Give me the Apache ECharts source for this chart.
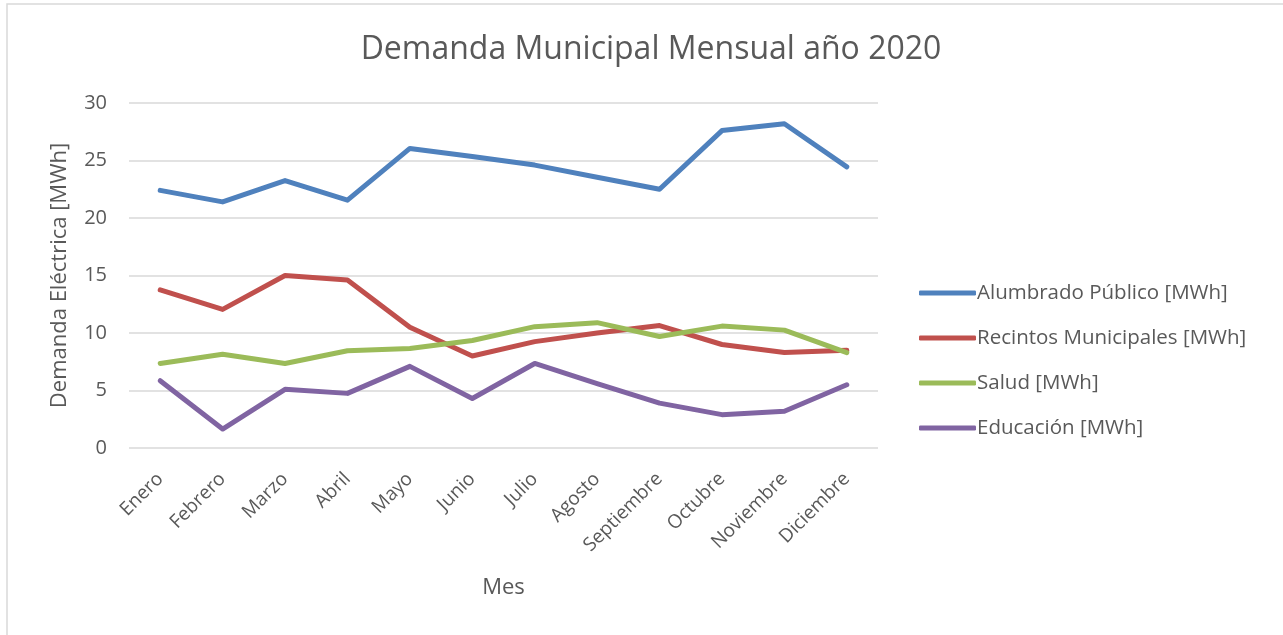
<!DOCTYPE html>
<html>
<head>
<meta charset="utf-8">
<script src="https://cdn.jsdelivr.net/npm/echarts@6/dist/echarts.min.js"></script>
<style>
  html, body { margin: 0; padding: 0; background: #fff; }
  #chart { width: 1283px; height: 635px; }
</style>
</head>
<body>
<div id="chart"></div>
<script>
// months on the x axis
const meses = ['Enero', 'Febrero', 'Marzo', 'Abril', 'Mayo', 'Junio', 'Julio',
  'Agosto', 'Septiembre', 'Octubre', 'Noviembre', 'Diciembre'];

// values, MWh
const alumbrado = [22.4, 21.4, 23.25, 21.55, 26.05, 25.35, 24.6, 23.55, 22.5, 27.6, 28.2, 24.45];
const recintos = [13.75, 12.05, 15.0, 14.6, 10.5, 8.0, 9.25, 10.0, 10.65, 9.0, 8.3, 8.5];
const salud = [7.35, 8.15, 7.35, 8.45, 8.65, 9.35, 10.55, 10.9, 9.7, 10.6, 10.25, 8.3];
const educacion = [5.85, 1.65, 5.1, 4.75, 7.1, 4.3, 7.35, 5.6, 3.9, 2.9, 3.2, 5.5];

const textGray = '#595959';
const font = 'Open Sans';

const chart = echarts.init(document.getElementById('chart'));

function lineSeries(name, data, color) {
  return {
    name: name,
    type: 'line',
    data: data,
    showSymbol: false,
    symbol: 'none',
    lineStyle: { width: 5, color: color, cap: 'round', join: 'round' },
    itemStyle: { color: color },
    animation: false
  };
}

chart.setOption({
  backgroundColor: '#fff',
  textStyle: { fontFamily: font },
  title: {
    text: 'Demanda Municipal Mensual año 2020',
    left: 646,
    textAlign: 'center',
    top: 29,
    textStyle: { fontFamily: font, fontSize: 32, fontWeight: 'normal', color: textGray }
  },
  graphic: [{
    type: 'rect',
    shape: { x: 7, y: 4, width: 1300, height: 660 },
    style: { fill: 'none', stroke: '#d9d9d9', lineWidth: 1.5 },
    silent: true
  }],
  legend: {
    orient: 'vertical',
    left: 914,
    top: 276,
    icon: 'roundRect',
    itemWidth: 57,
    itemHeight: 5,
    itemGap: 21,
    textStyle: { fontFamily: font, fontSize: 20.5, color: textGray, lineHeight: 24, padding: [0, 0, 0, -4] },
    data: ['Alumbrado Público [MWh]', 'Recintos Municipales [MWh]', 'Salud [MWh]', 'Educación [MWh]']
  },
  grid: { left: 129, right: 405, top: 103, bottom: 187, containLabel: false },
  xAxis: {
    type: 'category',
    data: meses,
    boundaryGap: true,
    name: 'Mes',
    nameLocation: 'middle',
    nameGap: 129,
    nameTextStyle: { fontFamily: font, fontSize: 22, color: textGray },
    axisLine: { show: false },
    axisTick: { show: false },
    axisLabel: { rotate: 45, margin: 28, fontFamily: font, fontSize: 19, color: textGray, interval: 0 }
  },
  yAxis: {
    type: 'value',
    min: 0,
    max: 30,
    interval: 5,
    name: 'Demanda Eléctrica [MWh]',
    nameLocation: 'middle',
    nameGap: 58,
    nameTextStyle: { fontFamily: font, fontSize: 22, color: textGray },
    axisLine: { show: false },
    axisTick: { show: false },
    axisLabel: { margin: 22, fontFamily: font, fontSize: 20, color: textGray },
    splitLine: { lineStyle: { color: '#d9d9d9', width: 1.5 } }
  },
  series: [
    lineSeries('Alumbrado Público [MWh]', alumbrado, '#4F81BD'),
    lineSeries('Recintos Municipales [MWh]', recintos, '#C0504D'),
    lineSeries('Salud [MWh]', salud, '#9BBB59'),
    lineSeries('Educación [MWh]', educacion, '#8064A2')
  ]
});
</script>
</body>
</html>
